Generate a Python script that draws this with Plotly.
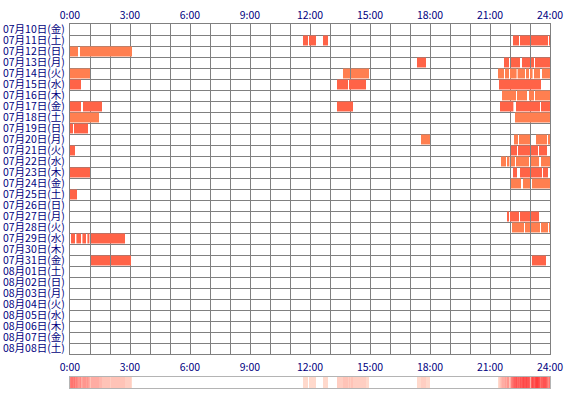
import numpy as np
import plotly.graph_objects as go

# ---- data ----
days = ["07月10日(金)", "07月11日(土)", "07月12日(日)", "07月13日(月)", "07月14日(火)",
        "07月15日(水)", "07月16日(木)", "07月17日(金)", "07月18日(土)", "07月19日(日)",
        "07月20日(月)", "07月21日(火)", "07月22日(水)", "07月23日(木)", "07月24日(金)",
        "07月25日(土)", "07月26日(日)", "07月27日(月)", "07月28日(火)", "07月29日(水)",
        "07月30日(木)", "07月31日(金)", "08月01日(土)", "08月02日(日)", "08月03日(月)",
        "08月04日(火)", "08月05日(水)", "08月06日(木)", "08月07日(金)", "08月08日(土)"]

# session segments: day index, start hour, end hour
seg_day = [1, 1, 1, 1, 1, 1, 1,
           2, 2,
           3, 3, 3, 3, 3, 3,
           4, 4, 4, 4, 4, 4, 4, 4, 4, 4, 4,
           5, 5, 5, 5,
           6, 6, 6, 6,
           7, 7, 7, 7, 7, 7,
           8, 8,
           9, 9,
           10, 10, 10, 10, 10,
           11, 11, 11, 11, 11,
           12, 12, 12, 12, 12, 12,
           13, 13, 13, 13, 13,
           14, 14, 14,
           15,
           17, 17, 17, 17,
           18, 18, 18, 18, 18,
           19, 19, 19, 19, 19,
           21, 21, 21]
seg_start = [11.65, 11.95, 12.65, 22.15, 22.5, 23.05, 23.95,
             0.0, 0.5,
             17.35, 21.7, 22.05, 22.6, 23.05, 23.25,
             0.0, 13.65, 14.05, 21.4, 21.75, 22.0, 22.38, 22.8, 23.0, 23.2, 23.6,
             0.0, 13.35, 13.95, 21.45,
             21.6, 22.35, 22.95, 23.25,
             0.0, 0.65, 13.35, 21.5, 22.3, 23.55,
             0.0, 22.25,
             0.0, 0.2,
             17.55, 22.2, 22.45, 23.3, 23.9,
             0.0, 22.05, 22.4, 23.05, 23.45,
             21.55, 21.85, 22.05, 22.3, 23.05, 23.55,
             0.0, 22.15, 22.5, 23.05, 23.65,
             22.05, 22.65, 23.1,
             0.0,
             21.85, 22.0, 22.5, 23.05,
             22.1, 22.75, 23.05, 23.55, 23.95,
             0.05, 0.32, 0.62, 0.87, 1.05,
             1.05, 2.05, 23.1]
seg_end = [11.9, 12.3, 12.9, 22.45, 23.0, 23.9, 24.0,
           0.4, 3.1,
           17.8, 21.95, 22.5, 23.0, 23.2, 24.0,
           1.0, 14.0, 14.95, 21.7, 21.95, 22.33, 22.75, 22.95, 23.13, 23.5, 24.0,
           0.55, 13.9, 14.8, 23.55,
           22.3, 22.85, 23.2, 24.0,
           0.55, 1.6, 14.15, 22.17, 23.5, 24.0,
           1.45, 24.0,
           0.15, 0.9,
           18.0, 22.4, 23.0, 23.85, 24.0,
           0.25, 22.35, 23.0, 23.4, 23.85,
           21.8, 21.97, 22.25, 22.95, 23.45, 24.0,
           1.0, 22.35, 23.0, 23.6, 23.9,
           22.55, 23.0, 24.0,
           0.35,
           21.95, 22.45, 23.0, 23.45,
           22.7, 23.0, 23.5, 23.9, 24.0,
           0.25, 0.55, 0.8, 0.97, 2.75,
           2.0, 3.05, 23.8]

hour_ticks = [0, 3, 6, 9, 12, 15, 18, 21, 24]
hour_labels = ["0:00", "3:00", "6:00", "9:00", "12:00", "15:00", "18:00", "21:00", "24:00"]

# ---- styling ----
ODD_COLOR = "#FF6347"
EVEN_COLOR = "#FF7F50"
GRID = "#808080"
TEXT = "#000080"
FONT = "Noto Sans CJK JP"

n_days = len(days)
bar_colors = [ODD_COLOR if d % 2 else EVEN_COLOR for d in seg_day]
durations = [e - s for s, e in zip(seg_start, seg_end)]

# activity density strip (count of sessions per 3-minute bin)
bin_w = 0.05
centers = np.arange(0, 24, bin_w) + bin_w / 2
counts = np.zeros(len(centers))
for s, e in zip(seg_start, seg_end):
    counts += ((centers >= s) & (centers < e)).astype(float)

fig = go.Figure()
fig.add_trace(go.Bar(
    orientation="h",
    y=[d + 0.5 for d in seg_day],
    base=seg_start,
    x=durations,
    width=0.9,
    marker=dict(color=bar_colors, line=dict(width=0)),
    xaxis="x", yaxis="y",
    showlegend=False,
    hoverinfo="skip",
))
# dummy trace to show top axis labels
fig.add_trace(go.Scatter(
    x=[0, 24], y=[0, 0], mode="markers", marker=dict(opacity=0),
    xaxis="x2", yaxis="y", showlegend=False, hoverinfo="skip",
))
fig.add_trace(go.Heatmap(
    x=centers, y=[0], z=[counts],
    zmin=0, zmax=counts.max(),
    colorscale=[[0, "rgb(255,255,255)"], [0.001, "rgb(255,228,214)"], [1, "rgb(255,60,60)"]],
    showscale=False, xaxis="x3", yaxis="y2", hoverinfo="skip",
))

tickfont = dict(family=FONT, size=10.5, color=TEXT)
fig.update_layout(
    width=570, height=400,
    margin=dict(l=70, r=20, t=24, b=12),
    paper_bgcolor="white", plot_bgcolor="white",
    barmode="overlay",
    xaxis=dict(domain=[0, 1], anchor="y", range=[0, 24], automargin=False,
               tickvals=hour_ticks, ticktext=hour_labels, tickfont=tickfont,
               showgrid=True, gridcolor=GRID, gridwidth=1,
               minor=dict(tickvals=list(range(25)), showgrid=True, gridcolor=GRID, gridwidth=1),
               showline=True, mirror=True, linecolor=GRID, linewidth=1,
               zeroline=False, ticks="", ticklabelstandoff=3),
    xaxis2=dict(overlaying="x", side="top", anchor="y", range=[0, 24], automargin=False,
                tickvals=hour_ticks, ticktext=hour_labels, tickfont=tickfont,
                showgrid=False, zeroline=False, ticks="", ticklabelstandoff=2),
    yaxis=dict(domain=[0.0934, 1], anchor="x", range=[n_days, 0], automargin=False,
               tickvals=[i + 0.5 for i in range(n_days)], ticktext=days, tickfont=tickfont,
               showgrid=False,
               minor=dict(tickvals=list(range(n_days + 1)), showgrid=True, gridcolor=GRID, gridwidth=1),
               showline=True, mirror=True, linecolor=GRID, linewidth=1,
               zeroline=False, ticks="", ticklabelstandoff=2),
    xaxis3=dict(domain=[0, 1], anchor="y2", range=[0, 24], showticklabels=False, automargin=False,
                showgrid=False, zeroline=False, showline=True, mirror=True,
                linecolor="#b4b4b4", linewidth=1, ticks=""),
    yaxis2=dict(domain=[0, 0.0302], anchor="x3", range=[-0.5, 0.5], showticklabels=False, automargin=False,
                showgrid=False, zeroline=False, showline=True, mirror=True,
                linecolor="#b4b4b4", linewidth=1, ticks=""),
)

fig.write_html("out.html", config={"displayModeBar": False, "staticPlot": True},
               post_script="document.body.style.margin='0';document.body.style.overflow='hidden';")
